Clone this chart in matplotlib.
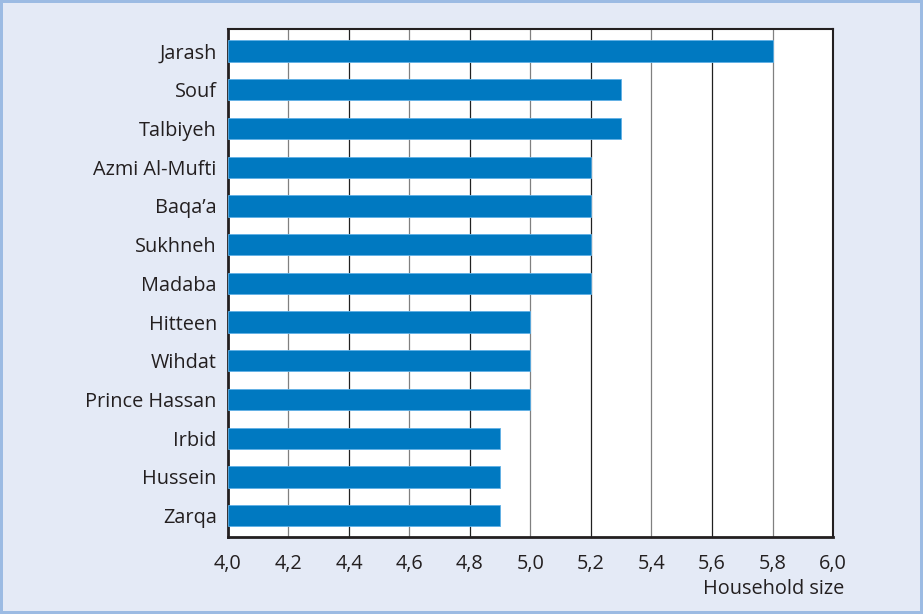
import numpy as np
import matplotlib.pyplot as plt

# Dados
camps = ["Jarash", "Souf", "Talbiyeh", "Azmi Al-Mufti", "Baqa\u2019a", "Sukhneh",
         "Madaba", "Hitteen", "Wihdat", "Prince Hassan", "Irbid", "Hussein", "Zarqa"]
household = [5.8, 5.3, 5.3, 5.2, 5.2, 5.2, 5.2, 5.0, 5.0, 5.0, 4.9, 4.9, 4.9]
x_ticks = [4.0, 4.2, 4.4, 4.6, 4.8, 5.0, 5.2, 5.4, 5.6, 5.8, 6.0]

BG = "#e4eaf6"
BAR = "#0079c1"
TXT = "#231f20"
FS = 14.3

plt.rcParams["font.family"] = ["Open Sans", "DejaVu Sans"]

fig = plt.figure(figsize=(9.23, 6.14), dpi=100, facecolor=BG)
fig.patch.set_edgecolor("#9cbbe3")
fig.patch.set_linewidth(3)
ax = fig.add_axes([0.247, 0.1254, 0.6555, 0.8274])
ax.set_facecolor("white")

y = np.arange(len(camps))
ax.barh(y, np.array(household) - 4.0, left=4.0, height=0.55, color=BAR,
        edgecolor="#5fb0e6", linewidth=0.6, zorder=3)

# Linhas de grade alternando cinza e preto
for i, xv in enumerate(x_ticks[1:-1]):
    cor = "#808080" if i % 2 == 0 else "#202020"
    ax.axvline(xv, color=cor, lw=0.9, zorder=1)

ax.set_xlim(4.0, 6.0)
ax.set_ylim(len(camps) - 0.45, -0.57)
ax.set_yticks(y)
ax.set_yticklabels(camps, fontsize=FS, color=TXT)
ax.set_xticks(x_ticks)
ax.set_xticklabels([f"{v:.1f}".replace(".", ",") for v in x_ticks],
                   fontsize=FS, color=TXT)
ax.tick_params(length=0)
ax.tick_params(axis="x", pad=12)
ax.tick_params(axis="y", pad=8)

for s in ["left", "bottom"]:
    ax.spines[s].set_linewidth(2)
    ax.spines[s].set_color(TXT)
for s in ["top", "right"]:
    ax.spines[s].set_linewidth(1.5)
    ax.spines[s].set_color(TXT)

fig.text(844 / 923, 1 - 589 / 614, "Household size", ha="right", va="center",
         fontsize=FS, color=TXT)

fig.savefig("out.png", dpi=100, facecolor=BG)
